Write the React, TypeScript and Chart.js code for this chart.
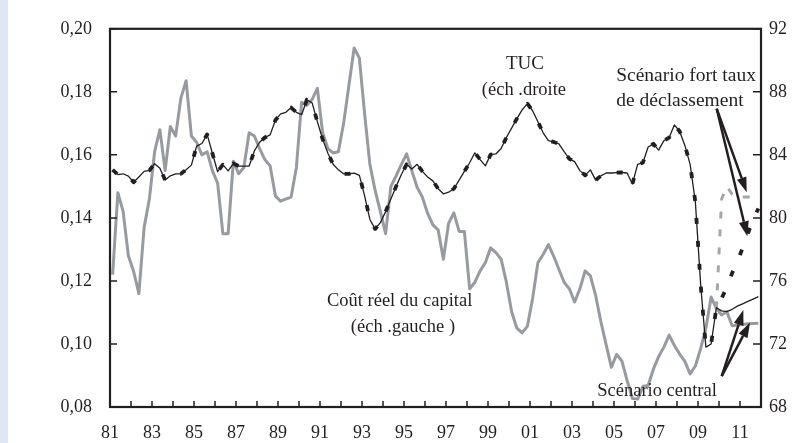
import React, { useEffect, useRef } from 'react';
import { Chart, registerables } from 'chart.js';

Chart.register(...registerables);

// ---- categories (quarters 1981T1 .. 2011T4) ----
const FIRST_YEAR = 1981;
const LAST_YEAR = 2011;
const QUARTERS: string[] = [];
for (let y = FIRST_YEAR; y <= LAST_YEAR; y++) {
  for (let q = 1; q <= 4; q++) QUARTERS.push(`${y}T${q}`);
}

// ---- TUC (taux d'utilisation des capacités), right axis, 1981T1..2009T4 ----
const TUC_HIST = [
  83.05, 82.75, 82.8, 82.65,
  82.26, 82.6, 82.95, 83.02,
  83.44, 83.15, 82.4, 82.67,
  82.8, 82.8, 83.05, 83.35,
  84.55, 84.72, 85.3, 84.1,
  82.93, 83.38, 82.98, 83.45,
  83.29, 83.29, 83.29, 84.25,
  84.8, 85.1, 85.27, 86.2,
  86.6, 86.7, 87.0, 86.7,
  86.55, 87.5, 87.3, 86.1,
  85.0, 84.1, 83.4, 83.05,
  82.8, 82.8, 82.84, 82.7,
  81.4, 79.9, 79.3, 79.7,
  80.4, 81.2, 82.0, 82.75,
  83.4, 83.1, 83.4, 82.95,
  82.6, 82.35, 81.85, 81.53,
  81.63, 81.85, 82.4, 82.95,
  83.5, 84.13, 83.7, 83.3,
  84.02, 84.06, 84.4, 85.1,
  85.7, 86.3, 86.85, 87.25,
  86.8, 86.1, 85.4, 84.9,
  84.82, 84.7, 84.2, 83.75,
  83.57, 83.0, 82.7, 83.05,
  82.4, 82.67, 82.85, 82.85,
  82.87, 82.88, 82.85, 82.15,
  83.4, 83.5, 84.5, 84.7,
  84.3, 84.9, 85.1, 85.9,
  85.5, 84.6, 83.4, 81.0,
  75.8, 71.8, 72.0, 74.3,
];
// scenarios 2010T1..2011T4
const TUC_CENTRAL = [74.1, 74.05, 74.2, 74.4, 74.55, 74.7, 74.85, 75.0];
const TUC_FORT = [74.9, 75.6, 76.5, 77.2, 78.1, 79.0, 79.9, 80.6];

// ---- Coût réel du capital, left axis, 1981T1..2009T4 ----
const CAPITAL_HIST = [
  0.122, 0.148, 0.142, 0.128,
  0.123, 0.116, 0.137, 0.146,
  0.161, 0.168, 0.155, 0.169,
  0.166, 0.178, 0.1835, 0.166,
  0.164, 0.16, 0.161, 0.155,
  0.151, 0.135, 0.135, 0.158,
  0.154, 0.156, 0.167, 0.166,
  0.162, 0.1585, 0.1565, 0.147,
  0.1453, 0.146, 0.1466, 0.156,
  0.1767, 0.1757, 0.1776, 0.1811,
  0.167, 0.162, 0.1606, 0.161,
  0.17, 0.182, 0.1939, 0.1907,
  0.173, 0.157, 0.1487, 0.142,
  0.135, 0.15, 0.1533, 0.157,
  0.1603, 0.1549, 0.1497, 0.1466,
  0.1414, 0.1378, 0.1362, 0.1269,
  0.1383, 0.1416, 0.1357, 0.1357,
  0.1175, 0.1196, 0.1232, 0.1258,
  0.1305, 0.129, 0.1269, 0.1196,
  0.1102, 0.105, 0.1035, 0.1056,
  0.1144, 0.1258, 0.1284, 0.1315,
  0.1279, 0.1237, 0.1196, 0.1175,
  0.1133, 0.1175, 0.1232, 0.1216,
  0.1154, 0.1071, 0.0998, 0.0926,
  0.0967, 0.0946, 0.0884, 0.0827,
  0.0825, 0.0866, 0.0868, 0.092,
  0.096, 0.099, 0.1028, 0.0995,
  0.0968, 0.0945, 0.0905, 0.093,
  0.0985, 0.105, 0.1149, 0.1113,
];
const CAPITAL_CENTRAL = [0.1092, 0.1102, 0.1058, 0.106, 0.1062, 0.1064, 0.1065, 0.1066];
const CAPITAL_FORT = [0.146, 0.15, 0.1475, 0.1466, 0.1466, 0.1466, 0.1466, 0.1466];

// ---- axis ticks ----
const LEFT_TICKS = [0.08, 0.1, 0.12, 0.14, 0.16, 0.18, 0.2];
const RIGHT_TICKS = [68, 72, 76, 80, 84, 88, 92];
const X_MIN = 1981;
const X_MAX = 2012;

// ---- annotations (x in years, y in right-axis units) ----
const LABELS = [
  { text: 'TUC', x: 2000.76, y: 89.76, size: 19 },
  { text: '(éch .droite', x: 2000.71, y: 88.13, size: 18.5 },
  { text: 'Scénario fort taux', x: 2008.43, y: 89.01, size: 19.5 },
  { text: 'de déclassement', x: 2008.14, y: 87.42, size: 19.5 },
  { text: 'Coût réel du capital', x: 1994.79, y: 74.7, size: 18.5 },
  { text: '(éch .gauche )', x: 1994.95, y: 73.05, size: 18.5 },
  { text: 'Scénario central', x: 2007.05, y: 69.0, size: 18.5 },
];
const ARROWS = [
  { from: [2009.89, 86.93], to: [2011.32, 81.63] },
  { from: [2009.89, 86.93], to: [2011.35, 78.83] },
  { from: [2010.13, 69.96], to: [2011.16, 74.15] },
  { from: [2010.13, 69.96], to: [2011.48, 73.36] },
];

const INK = '#231f20';
const GRAY = '#979b9f';
const FONT_FAMILY = '"Liberation Serif", "DejaVu Serif", serif';

const nHist = TUC_HIST.length;
const pad = (n: number) => new Array(n).fill(null);

const decorPlugin = {
  id: 'decor',
  afterDatasetsDraw(chart: any) {
    const { ctx, chartArea: a, scales } = chart;
    const xs = scales.xYear;
    const yl = scales.y;
    const yr = scales.y1;
    ctx.save();
    ctx.strokeStyle = INK;
    ctx.lineWidth = 1.5;
    ctx.beginPath();
    LEFT_TICKS.forEach((v) => {
      const py = yl.getPixelForValue(v);
      ctx.moveTo(a.left, py);
      ctx.lineTo(a.left + 7, py);
    });
    RIGHT_TICKS.forEach((v) => {
      const py = yr.getPixelForValue(v);
      ctx.moveTo(a.right - 8, py);
      ctx.lineTo(a.right, py);
    });
    for (let yv = X_MIN + 1; yv < X_MAX; yv++) {
      const px = xs.getPixelForValue(yv);
      ctx.moveTo(px, a.bottom);
      ctx.lineTo(px, a.bottom - 6);
    }
    ctx.stroke();
    ctx.lineWidth = 2.2;
    ctx.strokeRect(a.left, a.top, a.right - a.left, a.bottom - a.top);

    // labels
    ctx.fillStyle = INK;
    ctx.textAlign = 'center';
    ctx.textBaseline = 'middle';
    LABELS.forEach((l) => {
      ctx.font = `${l.size}px ${FONT_FAMILY}`;
      ctx.fillText(l.text, xs.getPixelForValue(l.x), yr.getPixelForValue(l.y));
    });

    // arrows
    ARROWS.forEach((ar) => {
      const x0 = xs.getPixelForValue(ar.from[0]);
      const y0 = yr.getPixelForValue(ar.from[1]);
      const x1 = xs.getPixelForValue(ar.to[0]);
      const y1 = yr.getPixelForValue(ar.to[1]);
      const ang = Math.atan2(y1 - y0, x1 - x0);
      const headL = 15;
      const headW = 5;
      const bx = x1 - headL * Math.cos(ang);
      const by = y1 - headL * Math.sin(ang);
      ctx.lineWidth = 2.5;
      ctx.beginPath();
      ctx.moveTo(x0, y0);
      ctx.lineTo(bx, by);
      ctx.stroke();
      ctx.beginPath();
      ctx.moveTo(x1, y1);
      ctx.lineTo(bx + headW * Math.sin(ang), by - headW * Math.cos(ang));
      ctx.lineTo(bx - headW * Math.sin(ang), by + headW * Math.cos(ang));
      ctx.closePath();
      ctx.fill();
    });
    ctx.restore();
  },
};

export default function App() {
  const ref = useRef<HTMLCanvasElement>(null);
  useEffect(() => {
    const canvas = ref.current;
    if (!canvas) return;
    const tickFont = { family: FONT_FAMILY, size: 18 };
    const noGrid = { display: false, drawTicks: false, tickLength: 0 };
    const chart = new Chart(canvas, {
      type: 'line',
      data: {
        labels: QUARTERS,
        datasets: [
          {
            label: 'TUC scénario central',
            data: [...TUC_HIST, ...TUC_CENTRAL],
            xAxisID: 'x',
            yAxisID: 'y1',
            borderColor: INK,
            borderWidth: 1.3,
            order: 0,
          },
          {
            label: 'TUC scénario fort',
            data: [...TUC_HIST, ...TUC_FORT],
            xAxisID: 'x',
            yAxisID: 'y1',
            borderColor: INK,
            borderWidth: 3.8,
            borderDash: [6, 17],
            order: 1,
          },
          {
            label: 'Coût réel du capital scénario fort',
            data: [...pad(nHist - 1), CAPITAL_HIST[nHist - 1], ...CAPITAL_FORT],
            xAxisID: 'x',
            yAxisID: 'y',
            borderColor: '#a4a7aa',
            borderWidth: 3,
            borderDash: [7, 11],
            spanGaps: false,
            order: 2,
          },
          {
            label: 'Coût réel du capital',
            data: [...CAPITAL_HIST, ...CAPITAL_CENTRAL],
            xAxisID: 'x',
            yAxisID: 'y',
            borderColor: GRAY,
            borderWidth: 3,
            order: 3,
          },
        ],
      },
      options: {
        responsive: false,
        animation: false,
        devicePixelRatio: 1,
        layout: { padding: { top: 22, left: 0, right: 0, bottom: 0 } },
        plugins: { legend: { display: false }, tooltip: { enabled: false }, title: { display: false } },
        elements: { point: { radius: 0 }, line: { tension: 0, borderJoinStyle: 'round', borderCapStyle: 'butt' } },
        scales: {
          x: { type: 'category', offset: true, display: false },
          xYear: {
            type: 'linear',
            position: 'bottom',
            min: X_MIN,
            max: X_MAX,
            grid: noGrid,
            border: { display: false },
            ticks: {
              stepSize: 1,
              autoSkip: false,
              maxRotation: 0,
              padding: 15,
              font: tickFont,
              color: INK,
              callback: (v: any) => (Number(v) % 2 === 1 ? String(Number(v) % 100).padStart(2, '0') : ''),
            },
            afterFit: (s: any) => {
              s.height = 36;
            },
          },
          y: {
            type: 'linear',
            position: 'left',
            min: 0.08,
            max: 0.2,
            grid: noGrid,
            border: { display: false },
            ticks: {
              stepSize: 0.02,
              padding: 18,
              font: tickFont,
              color: INK,
              callback: (v: any) => Number(v).toFixed(2).replace('.', ','),
            },
            afterFit: (s: any) => {
              s.width = 110;
            },
          },
          y1: {
            type: 'linear',
            position: 'right',
            min: 68,
            max: 92,
            grid: noGrid,
            border: { display: false },
            ticks: {
              stepSize: 4,
              padding: 8,
              font: tickFont,
              color: INK,
              callback: (v: any) => String(v),
            },
            afterFit: (s: any) => {
              s.width = 36;
            },
          },
        },
      },
      plugins: [decorPlugin],
    } as any);
    return () => chart.destroy();
  }, []);

  return (
    <div style={{ position: 'fixed', left: 0, top: 0, width: 797, height: 443, background: '#ffffff' }}>
      <div style={{ position: 'absolute', left: 0, top: 0, width: 8, height: 443, background: '#dde8f6' }} />
      <canvas ref={ref} width={797} height={443} style={{ position: 'absolute', left: 0, top: 0 }} />
    </div>
  );
}
